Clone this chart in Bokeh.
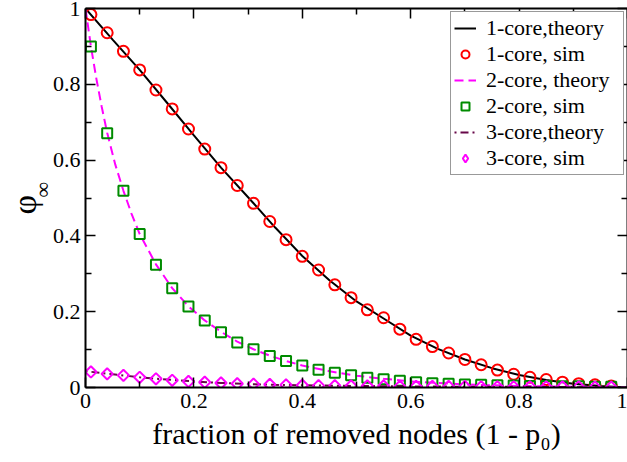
import math
from bokeh.plotting import figure
from bokeh.models import (Range1d, LinearAxis, FixedTicker, Legend, LegendItem, Title,
                          CustomJSTickFormatter)
from bokeh.embed import file_html
from bokeh.resources import INLINE

FONT = "Liberation Serif"
NAN = float("nan")

# ---- data ----
x_sim = [0.01, 0.04, 0.07, 0.10, 0.13, 0.16, 0.19, 0.22, 0.25, 0.28, 0.31,
         0.34, 0.37, 0.40, 0.43, 0.46, 0.49, 0.52, 0.55, 0.58, 0.61, 0.64,
         0.67, 0.70, 0.73, 0.76, 0.79, 0.82, 0.85, 0.88, 0.91, 0.94, 0.97]
one_core_sim = [0.984, 0.936, 0.887, 0.838, 0.785, 0.735, 0.682, 0.629, 0.580, 0.533, 0.486,
                0.438, 0.390, 0.346, 0.310, 0.271, 0.237, 0.205, 0.184, 0.154, 0.127, 0.108,
                0.091, 0.074, 0.060, 0.046, 0.035, 0.027, 0.021, 0.014, 0.010, 0.007, 0.004]
two_core_sim = [0.900, 0.671, 0.519, 0.405, 0.324, 0.262, 0.214, 0.177, 0.146, 0.119, 0.101,
                0.083, 0.070, 0.058, 0.047, 0.039, 0.032, 0.026, 0.022, 0.018, 0.014, 0.011,
                0.010, 0.008, 0.007, 0.006, 0.005, 0.004, 0.004, 0.003, 0.003, 0.002, 0.002]
three_core_sim = [0.041, 0.036, 0.032, 0.027, 0.023, 0.019, 0.016, 0.014, 0.012, 0.010, 0.009,
                  0.008, 0.007, 0.006, 0.005, 0.005, 0.004, 0.004, 0.004, 0.003, 0.003, 0.003,
                  0.003, 0.003, 0.002, 0.002, 0.002, 0.002, 0.002, 0.002, 0.002, 0.001, 0.001]

x_theory_1 = [0.0, 0.05, 0.10, 0.15, 0.20, 0.25, 0.30, 0.35, 0.40, 0.45, 0.50,
              0.55, 0.60, 0.65, 0.70, 0.75, 0.80, 0.85, 0.90, 0.95, 1.0]
one_core_theory = [1.0, 0.918, 0.838, 0.752, 0.665, 0.580, 0.502, 0.422, 0.347, 0.283, 0.227,
                   0.182, 0.137, 0.102, 0.074, 0.051, 0.033, 0.020, 0.010, 0.004, 0.0]

x_theory_2 = [0.0, 0.005, 0.01, 0.02, 0.03, 0.04, 0.055, 0.07, 0.085, 0.10, 0.13, 0.16, 0.19,
              0.22, 0.25, 0.28, 0.31, 0.34, 0.37, 0.40, 0.45, 0.50, 0.55, 0.60, 0.70,
              0.80, 0.90, 1.0]
two_core_theory = [1.0, 0.95, 0.90, 0.815, 0.74, 0.672, 0.588, 0.519, 0.458, 0.405, 0.325,
                   0.262, 0.214, 0.177, 0.147, 0.121, 0.101, 0.084, 0.070, 0.058, 0.043,
                   0.031, 0.023, 0.016, 0.008, 0.004, 0.002, 0.0]

x_theory_3 = [0.0, 0.05, 0.10, 0.15, 0.20, 0.25, 0.30, 0.35, 0.40, 0.50, 0.60, 0.70,
              0.80, 0.90, 1.0]
three_core_theory = [0.043, 0.035, 0.027, 0.021, 0.016, 0.012, 0.009, 0.007, 0.006, 0.004,
                     0.003, 0.002, 0.002, 0.001, 0.0]

major_ticks = [0.0, 0.2, 0.4, 0.6, 0.8, 1.0]
minor_ticks = [0.1, 0.3, 0.5, 0.7, 0.9]
tick_labels = ["0", "0.2", "0.4", "0.6", "0.8", "1"]

series_labels = ["1-core,theory", "1-core, sim", "2-core, theory",
                 "2-core, sim", "3-core,theory", "3-core, sim"]

# ---- figure ----
p = figure(width=627, height=462, output_backend="svg", toolbar_location=None,
           x_range=Range1d(0, 1), y_range=Range1d(0, 1),
           min_border_left=85, min_border_right=0, min_border_top=8,
           min_border_bottom=75)
p.grid.visible = False
p.outline_line_color = None
p.background_fill_color = "white"
p.border_fill_color = "white"

p.add_layout(LinearAxis(), "above")
p.add_layout(LinearAxis(), "right")

label_fmt = CustomJSTickFormatter(args=dict(labels=tick_labels), code="return labels[index];")
blank_fmt = CustomJSTickFormatter(code="return '';")
for ax in p.xaxis + p.yaxis:
    ax.ticker = FixedTicker(ticks=major_ticks, minor_ticks=minor_ticks)
    ax.formatter = label_fmt
    ax.axis_line_color = "black"
    ax.axis_line_width = 2
    ax.major_tick_in = 10
    ax.major_tick_out = 0
    ax.minor_tick_in = 6
    ax.minor_tick_out = 0
    ax.major_tick_line_color = "black"
    ax.minor_tick_line_color = "black"
    ax.major_tick_line_width = 1.5
    ax.minor_tick_line_width = 1.5
    ax.major_label_text_font = FONT
    ax.major_label_text_font_size = "22px"
    ax.major_label_text_color = "black"
    ax.major_label_standoff = 5

for ax in p.above + p.right:
    if isinstance(ax, LinearAxis):
        ax.formatter = blank_fmt
        ax.major_label_standoff = 0

xb = p.below[0]
xb.major_label_standoff = 6
xb.axis_label = "fraction of removed nodes (1 - p\u2080)"
xb.axis_label_text_font = FONT
xb.axis_label_text_font_size = "30px"
xb.axis_label_text_font_style = "normal"
xb.axis_label_text_color = "black"
xb.axis_label_standoff = 6

# y-axis label: phi with subscript infinity, as side titles
p.add_layout(Title(text="\u221e", align="left", vertical_align="middle",
                   offset=190, standoff=-13,
                   text_font=FONT, text_font_size="22px", text_font_style="normal",
                   text_color="black"), "left")
p.add_layout(Title(text="\u03c6", align="left", vertical_align="middle",
                   offset=173, standoff=-16,
                   text_font=FONT, text_font_size="34px", text_font_style="normal",
                   text_color="black"), "left")

# ---- series ----
r1t = p.line(x_theory_1, one_core_theory, line_color="black", line_width=2)
r1s = p.scatter(x_sim, one_core_sim, marker="circle", size=11, fill_color=None,
                line_color="#ff0000", line_width=2)
r2t = p.line(x_theory_2, two_core_theory, line_color="#ff00ff", line_width=2,
             line_dash="9 5")
r2s = p.scatter(x_sim, two_core_sim, marker="square", size=10, fill_color=None,
                line_color="#008b00", line_width=2)
r3t = p.line(x_theory_3, three_core_theory, line_color="#670748", line_width=2,
             line_dash="2 4 8 4")
r3s = p.scatter(x_sim, three_core_sim, marker="square", angle=math.pi / 4, size=8,
                fill_color=None, line_color="#ff00ff", line_width=2)
# legend-only renderer (NaN position, so nothing is drawn in the plot area)
r3s_leg = p.scatter([NAN], [NAN], marker="diamond", size=12, fill_color=None,
                    line_color="#ff00ff", line_width=2)

legend = Legend(items=[LegendItem(label=l, renderers=[r]) for l, r in
                       zip(series_labels, [r1t, r1s, r2t, r2s, r3t, r3s_leg])],
                location="top_right")
legend.label_text_font = FONT
legend.label_text_font_size = "22px"
legend.label_text_color = "black"
legend.glyph_width = 22
legend.glyph_height = 20
legend.label_height = 23
legend.label_width = 134
legend.label_standoff = 10
legend.padding = 3
legend.spacing = 0
legend.margin = 3
legend.border_line_color = "#333333"
legend.border_line_width = 1
legend.background_fill_alpha = 1.0
p.add_layout(legend)

open("out.html", "w").write(file_html(p, INLINE))
